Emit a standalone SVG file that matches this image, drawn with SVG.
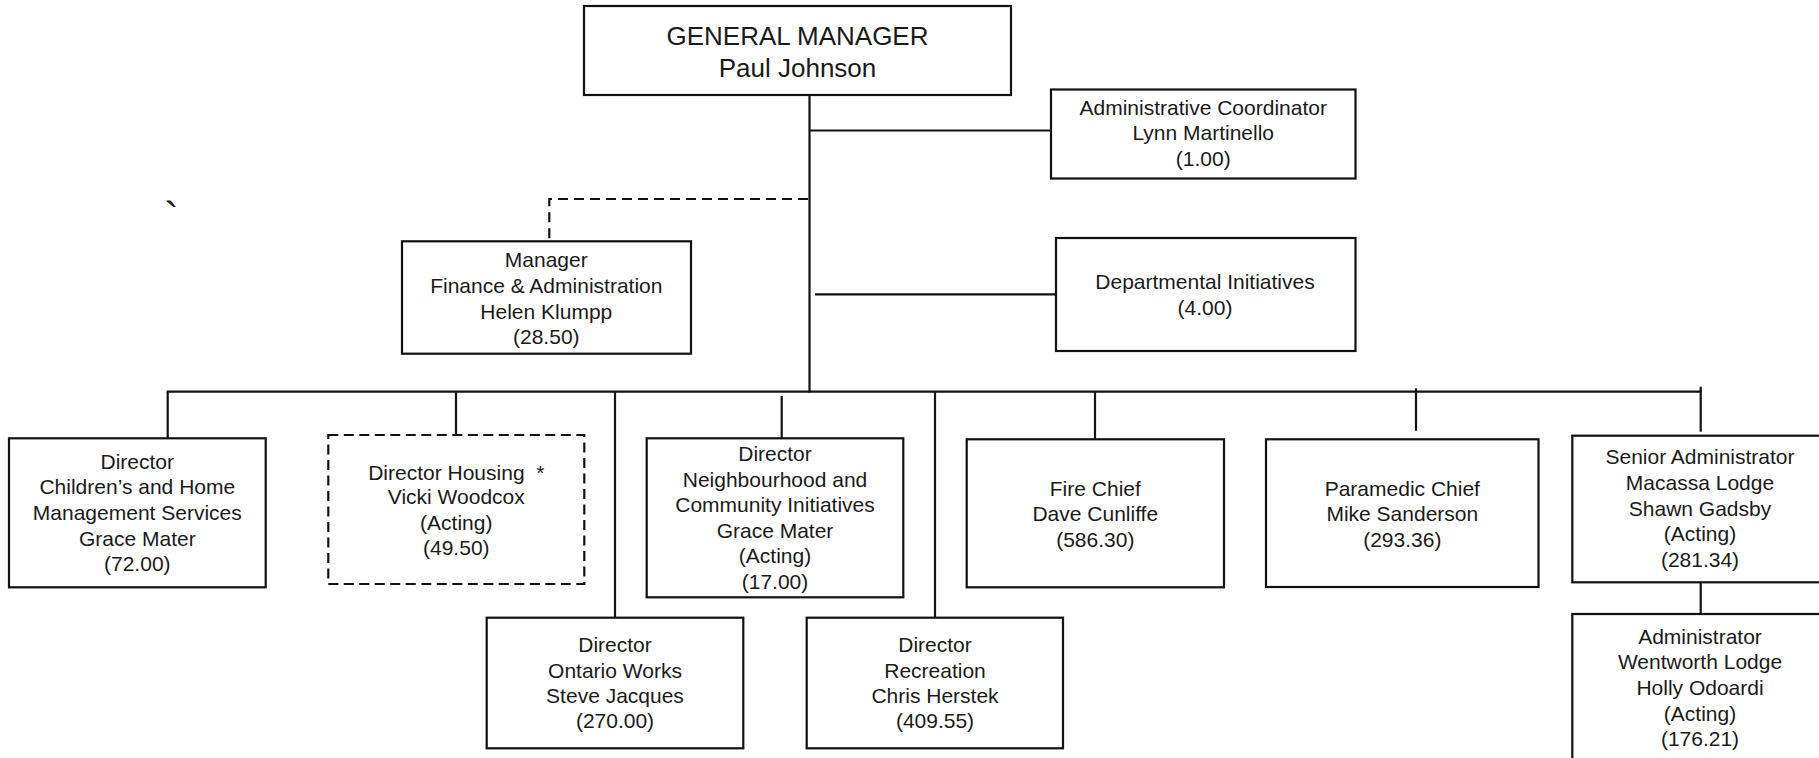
<svg xmlns="http://www.w3.org/2000/svg" width="1819" height="758" viewBox="0 0 1819 758">
  <style>
    .box { fill: #ffffff; stroke: #111111; stroke-width: 2.2; }
    .box-dashed { fill: #ffffff; stroke: #111111; stroke-width: 2.2; stroke-dasharray: 10 5.5; }
    .link { fill: none; stroke: #111111; stroke-width: 2.2; }
    .link-dashed { fill: none; stroke: #111111; stroke-width: 2.2; stroke-dasharray: 10 6; }
    text { font-family: "Liberation Sans", Arial, sans-serif; fill: #1a1a1a; text-anchor: middle; }
    .t { font-size: 21px; }
    .t-lg { font-size: 26px; }
  </style>

  <rect width="1819" height="758" fill="#ffffff"/>

  <!-- connectors -->
  <g id="connectors">
    <line class="link" x1="809.5" y1="95" x2="809.5" y2="392.5"/>
    <line class="link" x1="809.5" y1="130.5" x2="1051" y2="130.5"/>
    <line class="link" x1="815" y1="294.3" x2="1056" y2="294.3"/>
    <path class="link-dashed" d="M808 199 H549.3 V241"/>
    <line class="link" x1="166.7" y1="391.7" x2="1701.8" y2="391.7"/>
    <line class="link" x1="167.7" y1="391.7" x2="167.7" y2="438"/>
    <line class="link" x1="456" y1="391.7" x2="456" y2="435"/>
    <line class="link" x1="615" y1="391.7" x2="615" y2="617"/>
    <line class="link" x1="781.7" y1="396" x2="781.7" y2="438"/>
    <line class="link" x1="935" y1="391.7" x2="935" y2="617"/>
    <line class="link" x1="1095" y1="391.7" x2="1095" y2="439"/>
    <line class="link" x1="1416" y1="388.3" x2="1416" y2="430.7"/>
    <line class="link" x1="1700.7" y1="386.7" x2="1700.7" y2="431.7"/>
    <line class="link" x1="1700.7" y1="582.3" x2="1700.7" y2="614"/>
  </g>

  <g id="general-manager">
    <rect class="box" x="584" y="6" width="427" height="89"/>
    <text class="t-lg" x="797.5" y="45">GENERAL MANAGER</text>
    <text class="t-lg" x="797.5" y="76.7">Paul Johnson</text>
  </g>

  <g id="admin-coordinator">
    <rect class="box" x="1051" y="89.5" width="304.5" height="89"/>
    <text class="t" x="1203.2" y="115">Administrative Coordinator</text>
    <text class="t" x="1203.2" y="140.3">Lynn Martinello</text>
    <text class="t" x="1203.2" y="165.7">(1.00)</text>
  </g>

  <g id="departmental-initiatives">
    <rect class="box" x="1056" y="238" width="299.5" height="113"/>
    <text class="t" x="1205" y="289">Departmental Initiatives</text>
    <text class="t" x="1205" y="315">(4.00)</text>
  </g>

  <g id="finance-admin">
    <rect class="box" x="402" y="241.3" width="289" height="112.4"/>
    <text class="t" x="546.3" y="267.3">Manager</text>
    <text class="t" x="546.3" y="293.3">Finance &amp; Administration</text>
    <text class="t" x="546.3" y="319">Helen Klumpp</text>
    <text class="t" x="546.3" y="344.3">(28.50)</text>
  </g>

  <g id="mark">
    <text x="164" y="233" style="font-size:44px; text-anchor:start;">`</text>
  </g>

  <g id="childrens-services">
    <rect class="box" x="9" y="438.3" width="256.7" height="149"/>
    <text class="t" x="137.3" y="469.3">Director</text>
    <text class="t" x="137.3" y="494.3">Children’s and Home</text>
    <text class="t" x="137.3" y="520">Management Services</text>
    <text class="t" x="137.3" y="545.7">Grace Mater</text>
    <text class="t" x="137.3" y="571">(72.00)</text>
  </g>

  <g id="housing">
    <rect class="box-dashed" x="328.3" y="435" width="256" height="149"/>
    <text class="t" x="456.3" y="480" xml:space="preserve">Director Housing  *</text>
    <text class="t" x="456.3" y="504.3">Vicki Woodcox</text>
    <text class="t" x="456.3" y="530">(Acting)</text>
    <text class="t" x="456.3" y="555">(49.50)</text>
  </g>

  <g id="neighbourhood">
    <rect class="box" x="646.7" y="438.3" width="256.6" height="159"/>
    <text class="t" x="775" y="461">Director</text>
    <text class="t" x="775" y="486.7">Neighbourhood and</text>
    <text class="t" x="775" y="512.3">Community Initiatives</text>
    <text class="t" x="775" y="537.7">Grace Mater</text>
    <text class="t" x="775" y="563.3">(Acting)</text>
    <text class="t" x="775" y="589">(17.00)</text>
  </g>

  <g id="ontario-works">
    <rect class="box" x="486.7" y="617.7" width="256.6" height="130.6"/>
    <text class="t" x="615" y="652.3">Director</text>
    <text class="t" x="615" y="677.7">Ontario Works</text>
    <text class="t" x="615" y="703.3">Steve Jacques</text>
    <text class="t" x="615" y="728.3">(270.00)</text>
  </g>

  <g id="recreation">
    <rect class="box" x="806.7" y="617.7" width="256.3" height="130.6"/>
    <text class="t" x="935" y="652.3">Director</text>
    <text class="t" x="935" y="677.7">Recreation</text>
    <text class="t" x="935" y="703.3">Chris Herstek</text>
    <text class="t" x="935" y="728.3">(409.55)</text>
  </g>

  <g id="fire">
    <rect class="box" x="966.7" y="439.3" width="257.3" height="148"/>
    <text class="t" x="1095.3" y="495.7">Fire Chief</text>
    <text class="t" x="1095.3" y="521">Dave Cunliffe</text>
    <text class="t" x="1095.3" y="546.7">(586.30)</text>
  </g>

  <g id="paramedic">
    <rect class="box" x="1266" y="439.3" width="272.5" height="147.7"/>
    <text class="t" x="1402.3" y="495.7">Paramedic Chief</text>
    <text class="t" x="1402.3" y="521">Mike Sanderson</text>
    <text class="t" x="1402.3" y="546.7">(293.36)</text>
  </g>

  <g id="macassa-lodge">
    <rect class="box" x="1572.3" y="435.7" width="260" height="146.6"/>
    <text class="t" x="1700" y="464.3">Senior Administrator</text>
    <text class="t" x="1700" y="490">Macassa Lodge</text>
    <text class="t" x="1700" y="515.7">Shawn Gadsby</text>
    <text class="t" x="1700" y="541">(Acting)</text>
    <text class="t" x="1700" y="566.7">(281.34)</text>
  </g>

  <g id="wentworth-lodge">
    <rect class="box" x="1572.3" y="614" width="260" height="160"/>
    <text class="t" x="1700" y="644">Administrator</text>
    <text class="t" x="1700" y="669.3">Wentworth Lodge</text>
    <text class="t" x="1700" y="695">Holly Odoardi</text>
    <text class="t" x="1700" y="720.7">(Acting)</text>
    <text class="t" x="1700" y="746">(176.21)</text>
  </g>
</svg>
